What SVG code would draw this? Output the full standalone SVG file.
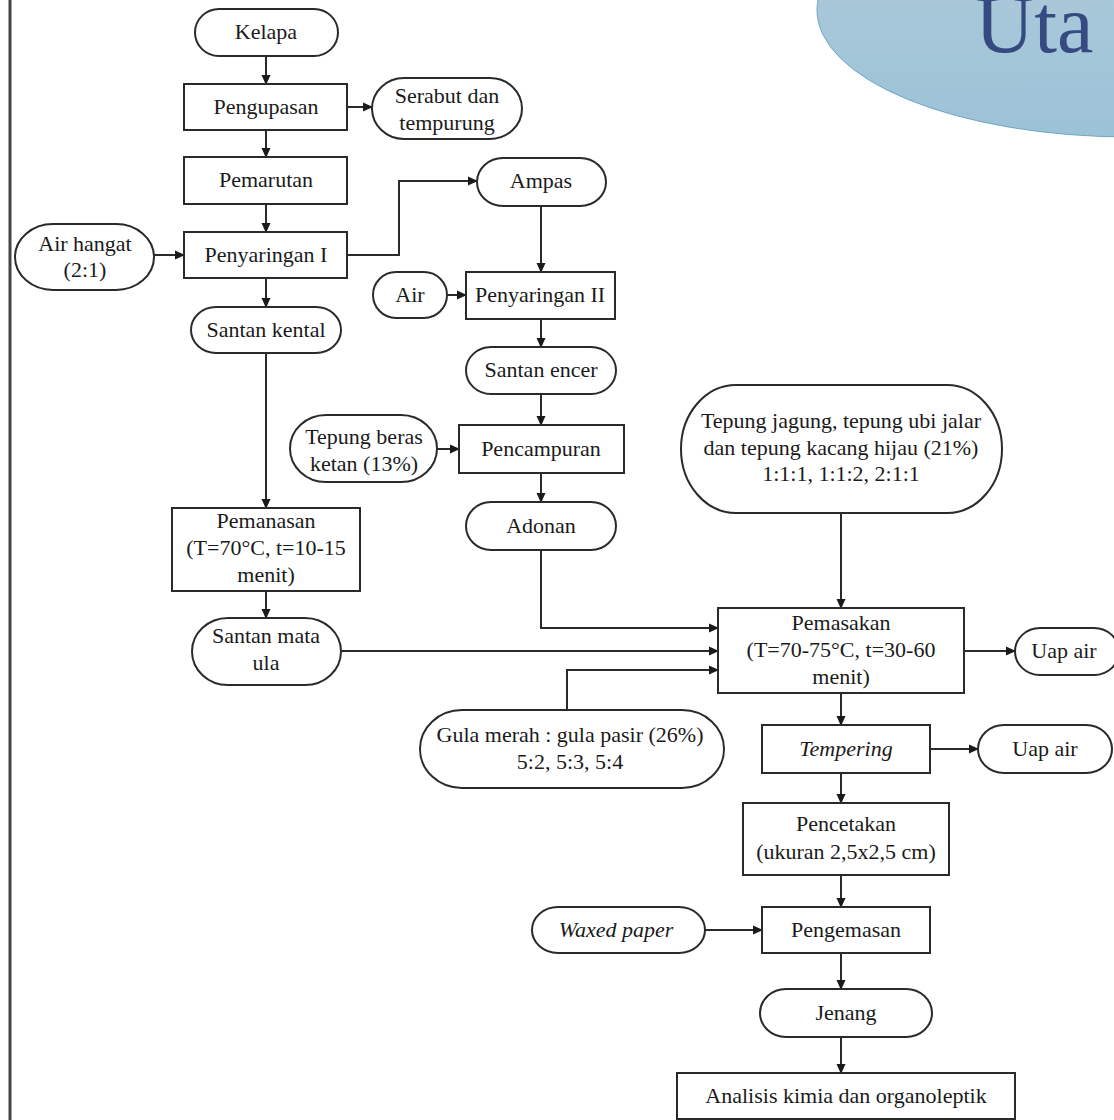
<svg xmlns="http://www.w3.org/2000/svg" width="1114" height="1120" viewBox="0 0 1114 1120">
<defs>
<linearGradient id="bg" x1="0" y1="0" x2="0" y2="1">
<stop offset="0" stop-color="#b2cddc"/>
<stop offset="1" stop-color="#9cc2d6"/>
</linearGradient>
<marker id="ah" markerWidth="10" markerHeight="10" refX="9" refY="5" orient="auto" markerUnits="userSpaceOnUse">
<path d="M0,0.5 L10,5 L0,9.5 Z" fill="#1a1a1a"/>
</marker>
</defs>
<style>
.b{fill:#fff;stroke:#2a2a2a;stroke-width:2}
.t{font-family:"Liberation Serif","Times New Roman",serif;font-size:22px;fill:#1a1a1a;text-anchor:middle}
.i{font-style:italic}
.c{fill:none;stroke:#2a2a2a;stroke-width:2;marker-end:url(#ah)}
.p{fill:none;stroke:#2a2a2a;stroke-width:2}
</style>
<rect x="0" y="0" width="1114" height="1120" fill="#fff"/>
<line x1="10" y1="0" x2="10" y2="1120" stroke="#444" stroke-width="3"/>
<g id="decor">
<ellipse cx="1130" cy="10" rx="313" ry="127" fill="url(#bg)" stroke="#6aa6c6" stroke-width="1"/>
<text x="975" y="52" font-family="Liberation Serif, serif" font-size="82" fill="#354a80">Uta</text>
</g>
<g id="connectors">
<path class="c" d="M266,56 V84"/>
<path class="c" d="M347,107 H372"/>
<path class="c" d="M266,130 V157"/>
<path class="c" d="M266,204 V232"/>
<path class="c" d="M154,255 H184"/>
<path class="c" d="M347,255 H399 V181 H477"/>
<path class="c" d="M541,206 V272"/>
<path class="c" d="M447,295 H466"/>
<path class="c" d="M266,278 V307"/>
<path class="c" d="M541,319 V347"/>
<path class="c" d="M541,394 V425"/>
<path class="c" d="M437,449 H459"/>
<path class="c" d="M541,473 V502"/>
<path class="c" d="M266,353 V508"/>
<path class="c" d="M266,591 V618"/>
<path class="c" d="M541,550 V628 H718"/>
<path class="c" d="M341,651 H718"/>
<path class="c" d="M567,710 V670 H718"/>
<path class="c" d="M841,513 V608"/>
<path class="c" d="M964,651 H1015"/>
<path class="c" d="M841,693 V725"/>
<path class="c" d="M930,749 H978"/>
<path class="c" d="M841,773 V803"/>
<path class="c" d="M841,875 V907"/>
<path class="c" d="M705,930 H762"/>
<path class="c" d="M841,953 V989"/>
<path class="c" d="M841,1037 V1073"/>
</g>
<g id="kelapa"><rect class="b" x="195" y="9" width="143" height="47" rx="24" ry="23.5"/><text class="t" x="266" y="39">Kelapa</text></g>
<g id="pengupasan"><rect class="b" x="184" y="84" width="163" height="46"/><text class="t" x="266" y="114">Pengupasan</text></g>
<g id="serabut"><rect class="b" x="372" y="78" width="150" height="61" rx="32" ry="30.5"/><text class="t" x="447" y="103">Serabut dan</text><text class="t" x="447" y="130">tempurung</text></g>
<g id="pemarutan"><rect class="b" x="184" y="157" width="163" height="47"/><text class="t" x="266" y="187">Pemarutan</text></g>
<g id="penyaringan1"><rect class="b" x="184" y="232" width="163" height="46"/><text class="t" x="266" y="262">Penyaringan I</text></g>
<g id="airhangat"><rect class="b" x="15" y="224" width="139" height="66" rx="38" ry="33"/><text class="t" x="85" y="251">Air hangat</text><text class="t" x="85" y="277">(2:1)</text></g>
<g id="ampas"><rect class="b" x="477" y="158" width="129" height="48" rx="26" ry="24"/><text class="t" x="541" y="188">Ampas</text></g>
<g id="air"><rect class="b" x="373" y="272" width="74" height="46" rx="23" ry="23"/><text class="t" x="410" y="302">Air</text></g>
<g id="penyaringan2"><rect class="b" x="466" y="272" width="149" height="47"/><text class="t" x="540" y="302">Penyaringan II</text></g>
<g id="santankental"><rect class="b" x="191" y="307" width="150" height="46" rx="25" ry="23"/><text class="t" x="266" y="337">Santan kental</text></g>
<g id="santanencer"><rect class="b" x="466" y="347" width="150" height="47" rx="25" ry="23.5"/><text class="t" x="541" y="377">Santan encer</text></g>
<g id="tepungberas"><rect class="b" x="290" y="415" width="147" height="67" rx="36" ry="33.5"/><text class="t" x="364" y="444">Tepung beras</text><text class="t" x="364" y="471">ketan (13%)</text></g>
<g id="pencampuran"><rect class="b" x="459" y="425" width="165" height="48"/><text class="t" x="541" y="456">Pencampuran</text></g>
<g id="adonan"><rect class="b" x="466" y="502" width="150" height="48" rx="25" ry="24"/><text class="t" x="541" y="533">Adonan</text></g>
<g id="tepungjagung"><rect class="b" x="681" y="385" width="321" height="128" rx="55" ry="64"/><text class="t" x="841" y="428">Tepung jagung, tepung ubi jalar</text><text class="t" x="841" y="455">dan tepung kacang hijau (21%)</text><text class="t" x="841" y="481">1:1:1, 1:1:2, 2:1:1</text></g>
<g id="pemanasan"><rect class="b" x="172" y="508" width="188" height="83"/><text class="t" x="266" y="528">Pemanasan</text><text class="t" x="266" y="555">(T=70°C, t=10-15</text><text class="t" x="266" y="582">menit)</text></g>
<g id="santanmataula"><rect class="b" x="192" y="618" width="149" height="67" rx="36" ry="33.5"/><text class="t" x="266" y="643">Santan mata</text><text class="t" x="266" y="670">ula</text></g>
<g id="pemasakan"><rect class="b" x="718" y="608" width="246" height="85"/><text class="t" x="841" y="630">Pemasakan</text><text class="t" x="841" y="657">(T=70-75°C, t=30-60</text><text class="t" x="841" y="684">menit)</text></g>
<g id="uapair1"><rect class="b" x="1015" y="628" width="104" height="47" rx="25" ry="23.5"/><text class="t" x="1064" y="658">Uap air</text></g>
<g id="gulamerah"><rect class="b" x="420" y="710" width="304" height="78" rx="42" ry="39"/><text class="t" x="570" y="742">Gula merah : gula pasir (26%)</text><text class="t" x="570" y="769">5:2, 5:3, 5:4</text></g>
<g id="tempering"><rect class="b" x="762" y="725" width="168" height="48"/><text class="t i" x="846" y="756">Tempering</text></g>
<g id="uapair2"><rect class="b" x="978" y="725" width="134" height="48" rx="26" ry="24"/><text class="t" x="1045" y="756">Uap air</text></g>
<g id="pencetakan"><rect class="b" x="743" y="803" width="206" height="72"/><text class="t" x="846" y="831">Pencetakan</text><text class="t" x="846" y="859">(ukuran 2,5x2,5 cm)</text></g>
<g id="pengemasan"><rect class="b" x="762" y="907" width="168" height="46"/><text class="t" x="846" y="937">Pengemasan</text></g>
<g id="waxedpaper"><rect class="b" x="532" y="907" width="173" height="46" rx="26" ry="23"/><text class="t i" x="616" y="937">Waxed paper</text></g>
<g id="jenang"><rect class="b" x="760" y="989" width="172" height="48" rx="26" ry="24"/><text class="t" x="846" y="1020">Jenang</text></g>
<g id="analisis"><rect class="b" x="677" y="1073" width="338" height="46"/><text class="t" x="846" y="1103">Analisis kimia dan organoleptik</text></g>
</svg>
